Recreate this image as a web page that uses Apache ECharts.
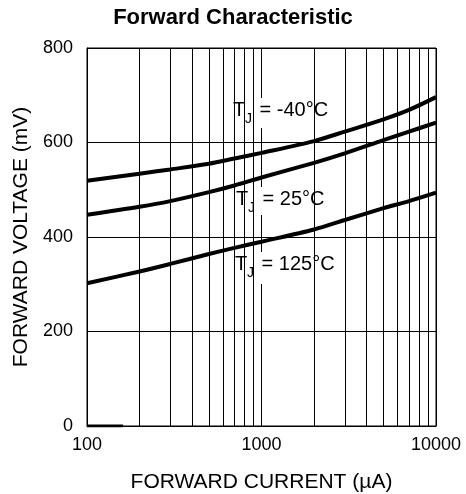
<!DOCTYPE html>
<html>
<head>
<meta charset="utf-8">
<script src="https://cdn.jsdelivr.net/npm/echarts@6/dist/echarts.min.js"></script>
<style>
  html, body { margin: 0; padding: 0; background: #fff; }
  #main { width: 466px; height: 494px; }
</style>
</head>
<body>
<div id="main"></div>
<script>
// forward current (uA) sample points and forward voltage (mV) per junction temp
var currentPts = [100, 200, 300, 500, 700, 1000, 2000, 3000, 5000, 7000, 10000];
var vMinus40 = [519, 534, 543, 555, 566, 578, 603, 623, 649, 669, 696];
var v25 = [447, 464, 476, 495, 509, 526, 557, 577, 605, 623, 642];
var v125 = [302, 327, 343, 364, 377, 390, 416, 436, 461, 476, 494];
// short stub drawn on the zero line at the lower left
var stubX = [100, 161];
var stubY = [0, 0];
// minor log grid lines
var minorGrid = [200, 300, 400, 500, 600, 700, 800, 900, 2000, 3000, 4000, 5000, 6000, 7000, 8000, 9000];
var yTicks = [0, 200, 400, 600, 800];
var labels = ['-40°C', '25°C', '125°C'];

function pairs(xs, ys) {
  return xs.map(function (x, i) { return [x, ys[i]]; });
}

var font = 'Liberation Sans, Arial, Helvetica, sans-serif';
var myChart = echarts.init(document.getElementById('main'));

function curve(name, ys) {
  return {
    name: name,
    type: 'line',
    data: pairs(currentPts, ys),
    smooth: 0.3,
    symbol: 'none',
    lineStyle: { color: '#000', width: 4 },
    z: 3
  };
}

// "T" + subscript "J" + " = xx°C" on a white box
function tjLabel(text, left, top, w, h) {
  return {
    type: 'group',
    left: left,
    top: top,
    z: 2,
    children: [
      { type: 'rect', shape: { x: 0, y: 0, width: w, height: h }, style: { fill: '#fff' }, z: 2, z2: 0 },
      { type: 'text', x: 5, y: 2, z: 2, z2: 5,
        style: { text: 'T', fontFamily: font, fontSize: 20, fill: '#000', verticalAlign: 'top' } },
      { type: 'text', x: 17, y: 14, z: 2, z2: 5,
        style: { text: 'J', fontFamily: font, fontSize: 14, fill: '#000', verticalAlign: 'top' } },
      { type: 'text', x: 26, y: 2, z: 2, z2: 5,
        style: { text: ' = ' + text, fontFamily: font, fontSize: 20, fill: '#000', verticalAlign: 'top' } }
    ]
  };
}

myChart.setOption({
  animation: false,
  title: {
    text: 'Forward Characteristic',
    left: 'center',
    top: 2,
    textStyle: { fontFamily: font, fontSize: 22, fontWeight: 'bold', color: '#000' }
  },
  grid: {
    left: 87, right: 30, top: 48, bottom: 68,
    outerBoundsMode: 'none',
    containLabel: false,
    show: true, borderColor: '#000', borderWidth: 1
  },
  xAxis: {
    type: 'log',
    logBase: 10,
    min: 100,
    max: 10000,
    name: 'FORWARD CURRENT (µA)',
    nameLocation: 'middle',
    nameGap: 46,
    nameTextStyle: { fontFamily: font, fontSize: 21, color: '#000' },
    axisLine: { lineStyle: { color: '#000', width: 1 } },
    axisTick: { show: false },
    axisLabel: {
      fontFamily: font, fontSize: 18, color: '#000', margin: 10,
      formatter: function (v) { return String(Math.round(v)); }
    },
    splitLine: { show: true, lineStyle: { color: '#000', width: 1 } }
  },
  yAxis: {
    type: 'value',
    min: yTicks[0],
    max: yTicks[yTicks.length - 1],
    interval: 200,
    name: 'FORWARD VOLTAGE (mV)',
    nameLocation: 'middle',
    nameGap: 49,
    nameTextStyle: { fontFamily: font, fontSize: 21, color: '#000' },
    axisLine: { show: true, lineStyle: { color: '#000', width: 1 } },
    axisTick: { show: false },
    axisLabel: { fontFamily: font, fontSize: 18, color: '#000', margin: 14 },
    splitLine: { show: true, lineStyle: { color: '#000', width: 1 } }
  },
  series: [
    {
      type: 'line',
      data: [],
      silent: true,
      markLine: {
        silent: true,
        symbol: 'none',
        label: { show: false },
        lineStyle: { color: '#000', width: 1, type: 'solid' },
        data: minorGrid.map(function (v) { return { xAxis: v }; })
      },
      z: 1
    },
    {
      type: 'line',
      data: pairs(stubX, stubY),
      symbol: 'none',
      lineStyle: { color: '#000', width: 3 },
      z: 3
    },
    curve('-40', vMinus40),
    curve('25', v25),
    curve('125', v125)
  ],
  graphic: [
    tjLabel(labels[0], 228, 98, 106, 30),
    tjLabel(labels[1], 231, 187, 100, 28),
    tjLabel(labels[2], 230, 252, 110, 32)
  ]
});
</script>
</body>
</html>
